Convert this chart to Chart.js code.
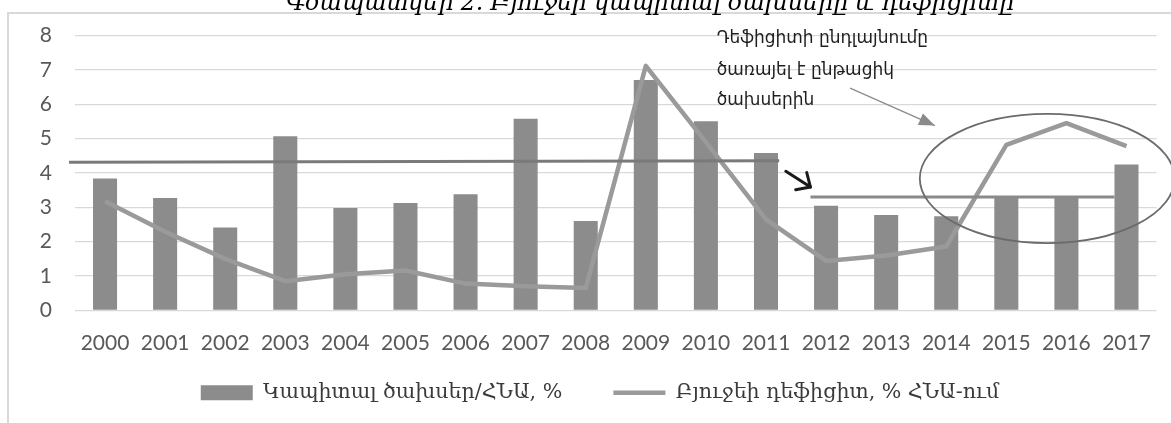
<!DOCTYPE html>
<html><head><meta charset="utf-8">
<script src="https://cdn.jsdelivr.net/npm/chart.js@4.4.1/dist/chart.umd.min.js"></script>
<style>html,body{margin:0;padding:0;background:#fff;overflow:hidden}canvas{display:block}</style>
</head><body>
<canvas id="c" width="1171" height="423"></canvas>
<script>
// ---- data ----
const years = ['2000','2001','2002','2003','2004','2005','2006','2007','2008','2009','2010','2011','2012','2013','2014','2015','2016','2017'];
const capitalSpending = [3.84, 3.27, 2.41, 5.07, 2.98, 3.13, 3.38, 5.58, 2.60, 6.71, 5.51, 4.58, 3.05, 2.78, 2.74, 3.30, 3.30, 4.25];
const budgetDeficit   = [3.18, 2.29, 1.50, 0.85, 1.05, 1.16, 0.78, 0.70, 0.65, 7.12, 4.90, 2.65, 1.44, 1.60, 1.86, 4.82, 5.45, 4.78];
const yTicks = [0, 1, 2, 3, 4, 5, 6, 7, 8];
const avgBefore = [{x: -0.6, y: 4.31}, {x: 11.22, y: 4.36}];
const avgAfter  = [{x: 11.74, y: 3.30}, {x: 16.80, y: 3.30}];
const titleText = 'Գծապատկեր 2. Բյուջեի կապիտալ ծախսերը և դեֆիցիտը';
const legendLabels = ['Կապիտալ ծախսեր/ՀՆԱ, %', 'Բյուջեի դեֆիցիտ, % ՀՆԱ-ում'];
const noteLines = ['Դեֆիցիտի ընդլայնումը', 'ծառայել է ընթացիկ', 'ծախսերին'];
// annotation anchors in data space (category index, value)
const noteAnchor = {x: 10.18, y: [7.9, 6.98, 6.1]};
const thinArrow = {from: {x: 12.40, y: 6.47}, to: {x: 13.81, y: 5.38}};
const boldArrow = {from: {x: 11.33, y: 4.05}, to: {x: 11.74, y: 3.59}};
const ellipseSpec = {x: 15.68, y: 3.84, rx: 2.12, ry: 1.88};

const tickFont = {family: 'Lato', size: 21};
const tickColor = '#595959';

const framePlugin = {
  id: 'frame',
  beforeDraw(chart) {
    const ctx = chart.ctx;
    ctx.save();
    ctx.fillStyle = '#fff';
    ctx.fillRect(0, 0, chart.width, chart.height);
    ctx.strokeStyle = '#d9d9d9';
    ctx.lineWidth = 2;
    ctx.strokeRect(8, 13, chart.width + 20, chart.height + 20);
    ctx.restore();
  },
  afterLayout(chart) {
    // centre the legend row like the reference
    if (chart.legend) { chart.legend.left += 17; chart.legend.right += 17; }
  },
  afterDraw(chart) {
    const ctx = chart.ctx;
    ctx.save();
    ctx.font = 'italic 23.6px "DejaVu Serif"';
    ctx.fillStyle = '#000';
    ctx.textAlign = 'center';
    ctx.textBaseline = 'alphabetic';
    ctx.fillText(titleText, 650, 10);
    ctx.restore();
  }
};

function arrowHead(x0, y0, x1, y1, len, ang) {
  const a = Math.atan2(y1 - y0, x1 - x0);
  return [
    [x1 - len * Math.cos(a - ang), y1 - len * Math.sin(a - ang)],
    [x1 - len * Math.cos(a + ang), y1 - len * Math.sin(a + ang)]
  ];
}

const annotPlugin = {
  id: 'annot',
  afterDatasetsDraw(chart) {
    const ctx = chart.ctx;
    const xs = chart.scales.x2, ys = chart.scales.y;
    const px = v => xs.getPixelForValue(v), py = v => ys.getPixelForValue(v);
    ctx.save();
    const cx = px(ellipseSpec.x), cy = py(ellipseSpec.y);
    const rx = px(ellipseSpec.x + ellipseSpec.rx) - cx;
    const ry = cy - py(ellipseSpec.y + ellipseSpec.ry);
    ctx.beginPath();
    ctx.ellipse(cx, cy, rx, ry, 0, 0, Math.PI * 2);
    ctx.strokeStyle = '#6b6b6b';
    ctx.lineWidth = 1.8;
    ctx.stroke();
    ctx.font = '17px "DejaVu Sans"';
    ctx.fillStyle = '#1f1f1f';
    ctx.textAlign = 'left';
    ctx.textBaseline = 'middle';
    noteLines.forEach((t, i) => ctx.fillText(t, px(noteAnchor.x), py(noteAnchor.y[i])));
    let x0 = px(thinArrow.from.x), y0 = py(thinArrow.from.y), x1 = px(thinArrow.to.x), y1 = py(thinArrow.to.y);
    ctx.strokeStyle = '#8a8a8a'; ctx.fillStyle = '#8a8a8a'; ctx.lineWidth = 1.2;
    ctx.beginPath(); ctx.moveTo(x0, y0); ctx.lineTo(x1, y1); ctx.stroke();
    let h = arrowHead(x0, y0, x1, y1, 17, 0.38);
    ctx.beginPath(); ctx.moveTo(x1, y1); ctx.lineTo(h[0][0], h[0][1]); ctx.lineTo(h[1][0], h[1][1]); ctx.closePath(); ctx.fill();
    x0 = px(boldArrow.from.x); y0 = py(boldArrow.from.y); x1 = px(boldArrow.to.x); y1 = py(boldArrow.to.y);
    ctx.strokeStyle = '#1a1a1a'; ctx.lineWidth = 3; ctx.lineCap = 'round'; ctx.lineJoin = 'round';
    ctx.beginPath(); ctx.moveTo(x0, y0); ctx.lineTo(x1, y1); ctx.stroke();
    h = arrowHead(x0, y0, x1, y1, 15, 0.75);
    ctx.beginPath(); ctx.moveTo(h[0][0], h[0][1]); ctx.lineTo(x1, y1); ctx.lineTo(h[1][0], h[1][1]); ctx.stroke();
    ctx.restore();
  }
};

new Chart(document.getElementById('c'), {
  type: 'bar',
  data: {
    labels: years,
    datasets: [
      {type: 'bar', label: legendLabels[0], data: capitalSpending, backgroundColor: '#8c8c8c',
       categoryPercentage: 1, barPercentage: 0.4, grouped: false, order: 4},
      {type: 'line', label: legendLabels[1], data: budgetDeficit, borderColor: '#9a9a9a', borderWidth: 4.5,
       pointRadius: 0, tension: 0, order: 3, borderJoinStyle: 'round'},
      {type: 'line', label: 'avg1', data: avgBefore, xAxisID: 'x2', borderColor: '#7a7a7a', borderWidth: 3,
       pointRadius: 0, order: 1, clip: false},
      {type: 'line', label: 'avg2', data: avgAfter, xAxisID: 'x2', borderColor: '#8a8a8a', borderWidth: 3,
       pointRadius: 0, order: 2, clip: false}
    ]
  },
  options: {
    responsive: false, animation: false, devicePixelRatio: 1,
    layout: {padding: {top: 34, left: 0, right: 5, bottom: 10}},
    scales: {
      x: {
        type: 'category', offset: true,
        grid: {display: false, drawTicks: false, offset: true}, border: {display: false},
        ticks: {font: tickFont, color: tickColor, padding: 20, maxRotation: 0, autoSkip: false},
        afterFit(s) { s.height = 62; }
      },
      x2: {type: 'linear', display: false, min: -0.5, max: 17.5, offset: false},
      y: {
        min: 0, max: 8,
        afterBuildTicks(s) { s.ticks = yTicks.map(v => ({value: v})); },
        grid: {color: '#d9d9d9', lineWidth: 1.2, drawTicks: false}, border: {display: false},
        ticks: {font: tickFont, color: tickColor, padding: 23},
        afterFit(s) { s.width = 75; }
      }
    },
    plugins: {
      tooltip: {enabled: false},
      title: {display: false},
      legend: {
        position: 'bottom',
        labels: {
          usePointStyle: true, pointStyleWidth: 52, boxHeight: 15,
          font: {family: '"DejaVu Serif"', size: 20.6}, color: '#3a3a3a', padding: 10,
          generateLabels(chart) {
            const ds = chart.data.datasets;
            return [
              {text: ds[0].label + '\u2003\u2003', fillStyle: ds[0].backgroundColor, strokeStyle: ds[0].backgroundColor,
               lineWidth: 0, pointStyle: 'rect', datasetIndex: 0, hidden: false, fontColor: '#3a3a3a'},
              {text: ds[1].label, fillStyle: ds[1].borderColor, strokeStyle: ds[1].borderColor,
               lineWidth: 4.5, pointStyle: 'line', datasetIndex: 1, hidden: false, fontColor: '#3a3a3a'}
            ];
          }
        }
      }
    }
  },
  plugins: [framePlugin, annotPlugin]
});
</script>
</body></html>
